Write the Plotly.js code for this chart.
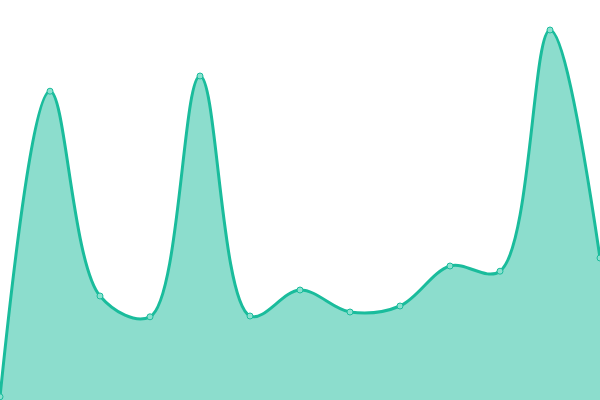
<!DOCTYPE html>
<html>
<head>
<meta charset="utf-8">
<script src="https://cdn.plot.ly/plotly-3.0.1.min.js"></script>
<style>
  html, body { margin: 0; padding: 0; background: #fff; }
  #chart { width: 600px; height: 400px; }
</style>
</head>
<body>
<div id="chart"></div>
<script>
// values (0 = bottom, 100 = top)
var xs = [0, 1, 2, 3, 4, 5, 6, 7, 8, 9, 10, 11, 12];
var values = [0.8, 77.2, 26, 20.8, 81, 21, 27.5, 22, 23.5, 33.5, 32.2, 92.5, 35.5];

var lineColor = '#1abc9c';
var fillColor = 'rgba(26,188,156,0.5)';

var trace1 = {
    x: xs,
    y: values,
    type: 'scatter',
    mode: 'lines+markers',
    fill: 'tozeroy',
    fillcolor: fillColor,
    hoverinfo: 'skip',
    line: { color: lineColor, width: 3, shape: 'spline', smoothing: 1 },
    marker: {
        size: 6,
        color: '#8ae1cf',
        line: { color: lineColor, width: 1 }
    },
    cliponaxis: false
};

var layout = {
    width: 600,
    height: 400,
    margin: { l: 0, r: 0, t: 0, b: 0 },
    paper_bgcolor: '#fff',
    plot_bgcolor: '#fff',
    showlegend: false,
    xaxis: { range: [0, 12], visible: false, fixedrange: true },
    yaxis: { range: [0, 100], visible: false, fixedrange: true }
};

Plotly.newPlot('chart', [trace1], layout, { staticPlot: true });
</script>
</body>
</html>
